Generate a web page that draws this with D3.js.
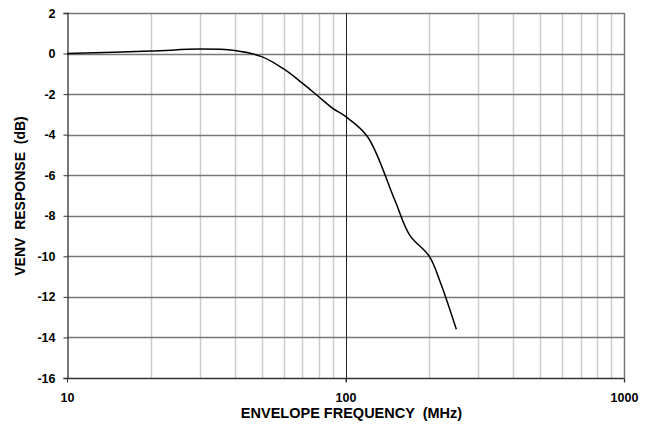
<!DOCTYPE html>
<meta charset="utf-8">
<title>venv response</title>
<script src="https://cdn.jsdelivr.net/npm/d3@7"></script>
<style>
body { margin: 0; background: #fff; }
text { font-family: "Liberation Sans", Arial, sans-serif; font-weight: bold; fill: #000; }
</style>
<body>
<script>

// envelope frequency (MHz) and response (dB)
var freq = [10, 20, 30, 40, 50, 60, 70, 80, 90, 100, 120, 150, 170, 200, 220, 250];
var resp = [0, 0.12, 0.22, 0.15, -0.15, -0.76, -1.46, -2.12, -2.7, -3.1, -4.1, -7.2, -8.95, -10.0, -11.35, -13.6];

var xTicks = [10, 100, 1000];
var yTicks = [2, 0, -2, -4, -6, -8, -10, -12, -14, -16];
var minorX = [20, 30, 40, 50, 60, 70, 80, 90, 200, 300, 400, 500, 600, 700, 800, 900];

var width = 658, height = 430;
var margin = {top: 13, right: 34, bottom: 52, left: 67};

var svg = d3.select("body").append("svg")
    .attr("width", width)
    .attr("height", height);

var x = d3.scaleLog()
    .domain([10, 1000])
    .range([margin.left, width - margin.right]);

var y = d3.scaleLinear()
    .domain([-16, 2])
    .range([height - margin.bottom, margin.top]);

// minor vertical grid
svg.append("g").selectAll("line")
    .data(minorX)
  .enter().append("line")
    .attr("x1", function(d) { return Math.round(x(d)) + 0.5; })
    .attr("x2", function(d) { return Math.round(x(d)) + 0.5; })
    .attr("y1", y(2))
    .attr("y2", y(-16))
    .attr("stroke", "#cccccc")
    .attr("stroke-width", 1.5);

// horizontal grid
svg.append("g").selectAll("line")
    .data(yTicks)
  .enter().append("line")
    .attr("x1", x(10))
    .attr("x2", x(1000))
    .attr("y1", function(d) { return Math.round(y(d)) + 0.5; })
    .attr("y2", function(d) { return Math.round(y(d)) + 0.5; })
    .attr("stroke", function(d) { return d == -16 ? "#333" : "#777"; })
    .attr("stroke-width", 1.3);

// 100 MHz major line and right border
svg.append("line")
    .attr("x1", Math.round(x(100)) + 0.5).attr("x2", Math.round(x(100)) + 0.5)
    .attr("y1", y(2)).attr("y2", y(-16) + 4)
    .attr("stroke", "#222").attr("stroke-width", 1);
svg.append("line")
    .attr("x1", Math.round(x(1000)) + 0.5).attr("x2", Math.round(x(1000)) + 0.5)
    .attr("y1", y(2)).attr("y2", y(-16) + 4)
    .attr("stroke", "#777").attr("stroke-width", 1.5);

// left axis
var yAxis = d3.axisLeft(y)
    .tickValues(yTicks)
    .tickFormat(function(d) { return String(d); })
    .tickSize(4)
    .tickPadding(8);
var gy = svg.append("g")
    .attr("transform", "translate(" + (Math.round(x(10)) + 0.5) + ",0)")
    .call(yAxis);
gy.select(".domain").attr("stroke", "#333").attr("stroke-width", 1.3);
gy.selectAll(".tick line").attr("stroke", "#333");
gy.selectAll("text").style("font-size", "12.5px");

// bottom axis
var xAxis = d3.axisBottom(x)
    .tickValues(xTicks)
    .tickFormat(function(d) { return String(d); })
    .tickSize(4)
    .tickSizeOuter(0)
    .tickPadding(11);
var gx = svg.append("g")
    .attr("transform", "translate(0," + (Math.round(y(-16)) + 0.5) + ")")
    .call(xAxis);
gx.select(".domain").remove();
gx.selectAll(".tick line").attr("stroke", "#333");
gx.selectAll("text").style("font-size", "12.5px");

// response curve
var line = d3.line()
    .x(function(d, i) { return x(freq[i]); })
    .y(function(d) { return y(d); })
    .curve(d3.curveCatmullRom.alpha(0.5));

svg.append("path")
    .datum(resp)
    .attr("d", line)
    .attr("fill", "none")
    .attr("stroke", "#000")
    .attr("stroke-width", 1.5);

// axis titles
svg.append("text")
    .attr("x", x(100) + 6)
    .attr("y", 418)
    .attr("text-anchor", "middle")
    .style("font-size", "14.5px")
    .style("white-space", "pre")
    .text("ENVELOPE FREQUENCY  (MHz)");

svg.append("text")
    .attr("transform", "translate(25," + 196 + ") rotate(-90)")
    .attr("text-anchor", "middle")
    .style("font-size", "14px")
    .style("white-space", "pre")
    .text("VENV  RESPONSE  (dB)");

</script>
</body>
